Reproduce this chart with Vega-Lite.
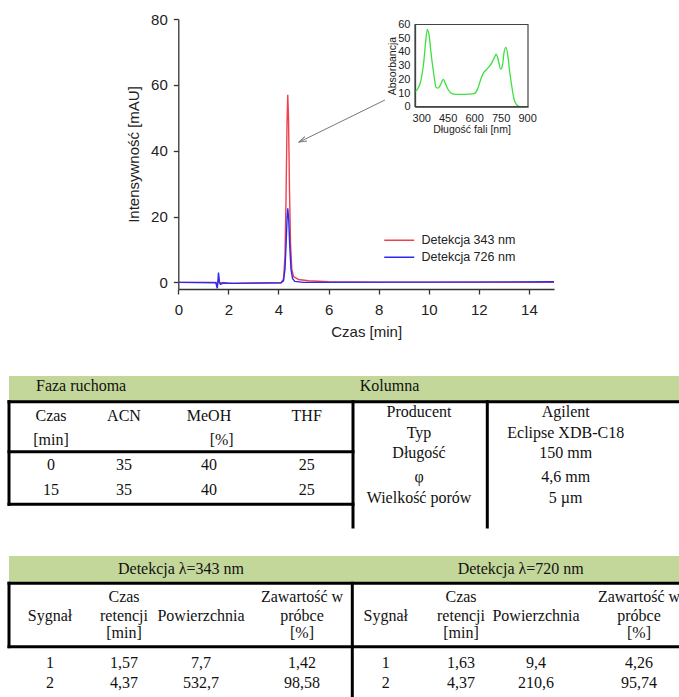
{
  "$schema": "https://vega.github.io/schema/vega-lite/v6.json",
  "width": 679,
  "height": 697,
  "autosize": {"type": "none"},
  "padding": 0,
  "background": "white",
  "config": {
    "view": {"stroke": null},
    "font": "Liberation Sans",
    "axis": {"grid": false, "domainColor": "#333", "tickColor": "#333", "labelColor": "#222", "titleColor": "#222", "titleFontWeight": "normal", "domainWidth": 1.3, "tickWidth": 1.3, "labelFlush": false, "labelOverlap": false}
  },
  "datasets": {
    "chrom": [
      {"s": "Detekcja 343 nm", "t": 0, "i": 0}, {"s": "Detekcja 343 nm", "t": 1.5, "i": 0}, {"s": "Detekcja 343 nm", "t": 1.56, "i": -0.4}, {"s": "Detekcja 343 nm", "t": 1.6, "i": 0.6}, {"s": "Detekcja 343 nm", "t": 1.65, "i": -0.2}, {"s": "Detekcja 343 nm", "t": 1.75, "i": 0}, {"s": "Detekcja 343 nm", "t": 2, "i": -0.3}, {"s": "Detekcja 343 nm", "t": 3, "i": -0.2}, {"s": "Detekcja 343 nm", "t": 4.1, "i": -0.1}, {"s": "Detekcja 343 nm", "t": 4.2, "i": 1}, {"s": "Detekcja 343 nm", "t": 4.26, "i": 8}, {"s": "Detekcja 343 nm", "t": 4.3, "i": 25}, {"s": "Detekcja 343 nm", "t": 4.34, "i": 48}, {"s": "Detekcja 343 nm", "t": 4.37, "i": 57}, {"s": "Detekcja 343 nm", "t": 4.4, "i": 50}, {"s": "Detekcja 343 nm", "t": 4.44, "i": 28}, {"s": "Detekcja 343 nm", "t": 4.48, "i": 12}, {"s": "Detekcja 343 nm", "t": 4.53, "i": 4}, {"s": "Detekcja 343 nm", "t": 4.6, "i": 1.8}, {"s": "Detekcja 343 nm", "t": 4.8, "i": 0.9}, {"s": "Detekcja 343 nm", "t": 5.2, "i": 0.5}, {"s": "Detekcja 343 nm", "t": 6, "i": 0.2}, {"s": "Detekcja 343 nm", "t": 8, "i": 0.1}, {"s": "Detekcja 343 nm", "t": 15, "i": 0},
      {"s": "Detekcja 726 nm", "t": 0, "i": 0}, {"s": "Detekcja 726 nm", "t": 1.5, "i": -0.1}, {"s": "Detekcja 726 nm", "t": 1.555, "i": -1.8}, {"s": "Detekcja 726 nm", "t": 1.58, "i": 0}, {"s": "Detekcja 726 nm", "t": 1.605, "i": 3}, {"s": "Detekcja 726 nm", "t": 1.64, "i": 0.3}, {"s": "Detekcja 726 nm", "t": 1.68, "i": -0.6}, {"s": "Detekcja 726 nm", "t": 1.8, "i": -0.2}, {"s": "Detekcja 726 nm", "t": 2.2, "i": -0.3}, {"s": "Detekcja 726 nm", "t": 4.1, "i": -0.1}, {"s": "Detekcja 726 nm", "t": 4.2, "i": 0.5}, {"s": "Detekcja 726 nm", "t": 4.26, "i": 4}, {"s": "Detekcja 726 nm", "t": 4.3, "i": 11}, {"s": "Detekcja 726 nm", "t": 4.34, "i": 19}, {"s": "Detekcja 726 nm", "t": 4.37, "i": 22.5}, {"s": "Detekcja 726 nm", "t": 4.41, "i": 19}, {"s": "Detekcja 726 nm", "t": 4.45, "i": 11}, {"s": "Detekcja 726 nm", "t": 4.5, "i": 4}, {"s": "Detekcja 726 nm", "t": 4.56, "i": 1.2}, {"s": "Detekcja 726 nm", "t": 4.65, "i": 0.3}, {"s": "Detekcja 726 nm", "t": 5, "i": 0}, {"s": "Detekcja 726 nm", "t": 10, "i": 0.1}, {"s": "Detekcja 726 nm", "t": 15, "i": 0.2}
    ],
    "spectrum": [
      {"nm": 265, "abs": 11}, {"nm": 280, "abs": 13}, {"nm": 300, "abs": 20}, {"nm": 315, "abs": 33}, {"nm": 325, "abs": 47}, {"nm": 335, "abs": 56.5}, {"nm": 345, "abs": 52}, {"nm": 355, "abs": 40}, {"nm": 370, "abs": 25}, {"nm": 385, "abs": 14}, {"nm": 395, "abs": 13.5}, {"nm": 410, "abs": 16}, {"nm": 425, "abs": 20}, {"nm": 440, "abs": 16}, {"nm": 455, "abs": 12}, {"nm": 475, "abs": 9.5}, {"nm": 500, "abs": 9}, {"nm": 550, "abs": 9}, {"nm": 600, "abs": 9.5}, {"nm": 620, "abs": 13}, {"nm": 640, "abs": 21}, {"nm": 655, "abs": 25}, {"nm": 680, "abs": 28.5}, {"nm": 700, "abs": 32}, {"nm": 715, "abs": 36}, {"nm": 725, "abs": 38.3}, {"nm": 735, "abs": 35}, {"nm": 750, "abs": 27.5}, {"nm": 760, "abs": 30}, {"nm": 770, "abs": 40}, {"nm": 780, "abs": 43.3}, {"nm": 790, "abs": 38}, {"nm": 800, "abs": 27}, {"nm": 813, "abs": 15}, {"nm": 825, "abs": 6}, {"nm": 840, "abs": 1.5}, {"nm": 855, "abs": 0.2}, {"nm": 880, "abs": 0}, {"nm": 905, "abs": 0}
    ],
    "arrow": [{"t1": 8.25, "i1": 55.4, "t2": 4.82, "i2": 42.6}],
    "t1fill": [{"x": 0, "x2": 12, "y": 0, "y2": 2}],
    "t1lines": [
      {"x": 0, "x2": 12, "y": 2, "y2": 2}, {"x": 0, "x2": 7, "y": 7, "y2": 7}, {"x": 0, "x2": 7, "y": 13, "y2": 13},
      {"x": 0, "x2": 0, "y": 2, "y2": 13}, {"x": 7, "x2": 7, "y": 2, "y2": 14}, {"x": 10, "x2": 10, "y": 2, "y2": 14}
    ],
    "t1heads": [{"x": 1, "y": 1, "label": "Faza ruchoma"}, {"x": 8, "y": 1, "label": "Kolumna"}],
    "t1cells": [
      {"x": 2, "y": 4, "label": "Czas"}, {"x": 3, "y": 4, "label": "ACN"}, {"x": 4, "y": 4, "label": "MeOH"}, {"x": 6, "y": 4, "label": "THF"},
      {"x": 2, "y": 6, "label": "[min]"}, {"x": 5, "y": 6, "label": "[%]"},
      {"x": 2, "y": 9, "label": "0"}, {"x": 3, "y": 9, "label": "35"}, {"x": 4, "y": 9, "label": "40"}, {"x": 6, "y": 9, "label": "25"},
      {"x": 2, "y": 11, "label": "15"}, {"x": 3, "y": 11, "label": "35"}, {"x": 4, "y": 11, "label": "40"}, {"x": 6, "y": 11, "label": "25"},
      {"x": 9, "y": 3, "label": "Producent"}, {"x": 11, "y": 3, "label": "Agilent"},
      {"x": 9, "y": 5, "label": "Typ"}, {"x": 11, "y": 5, "label": "Eclipse XDB-C18"},
      {"x": 9, "y": 8, "label": "Długość"}, {"x": 11, "y": 8, "label": "150 mm"},
      {"x": 9, "y": 10, "label": "φ"}, {"x": 11, "y": 10, "label": "4,6 mm"},
      {"x": 9, "y": 12, "label": "Wielkość porów"}, {"x": 11, "y": 12, "label": "5 µm"}
    ],
    "t2fill": [{"x": 0, "x2": 12, "y": 0, "y2": 2}],
    "t2lines": [
      {"x": 0, "x2": 12, "y": 2, "y2": 2}, {"x": 0, "x2": 12, "y": 6, "y2": 6},
      {"x": 0, "x2": 0, "y": 2, "y2": 6}, {"x": 6, "x2": 6, "y": 2, "y2": 9}
    ],
    "t2cells": [
      {"x": 3, "y": 1, "label": "Detekcja λ=343 nm"}, {"x": 9, "y": 1, "label": "Detekcja λ=720 nm"},
      {"x": 2, "y": 3, "label": "Czas"}, {"x": 5, "y": 3, "label": "Zawartość w"}, {"x": 8, "y": 3, "label": "Czas"}, {"x": 11, "y": 3, "label": "Zawartość w"},
      {"x": 1, "y": 4, "label": "Sygnał"}, {"x": 2, "y": 4, "label": "retencji"}, {"x": 4, "y": 4, "label": "Powierzchnia"}, {"x": 5, "y": 4, "label": "próbce"},
      {"x": 7, "y": 4, "label": "Sygnał"}, {"x": 8, "y": 4, "label": "retencji"}, {"x": 10, "y": 4, "label": "Powierzchnia"}, {"x": 11, "y": 4, "label": "próbce"},
      {"x": 2, "y": 5, "label": "[min]"}, {"x": 5, "y": 5, "label": "[%]"}, {"x": 8, "y": 5, "label": "[min]"}, {"x": 11, "y": 5, "label": "[%]"},
      {"x": 1, "y": 7, "label": "1"}, {"x": 2, "y": 7, "label": "1,57"}, {"x": 4, "y": 7, "label": "7,7"}, {"x": 5, "y": 7, "label": "1,42"},
      {"x": 7, "y": 7, "label": "1"}, {"x": 8, "y": 7, "label": "1,63"}, {"x": 10, "y": 7, "label": "9,4"}, {"x": 11, "y": 7, "label": "4,26"},
      {"x": 1, "y": 8, "label": "2"}, {"x": 2, "y": 8, "label": "4,37"}, {"x": 4, "y": 8, "label": "532,7"}, {"x": 5, "y": 8, "label": "98,58"},
      {"x": 7, "y": 8, "label": "2"}, {"x": 8, "y": 8, "label": "4,37"}, {"x": 10, "y": 8, "label": "210,6"}, {"x": 11, "y": 8, "label": "95,74"}
    ]
  },
  "layer": [
    {
      "layer": [
        {
          "data": {"name": "chrom"},
          "mark": {"type": "line", "strokeWidth": 1.4},
          "encoding": {
            "x": {"field": "t", "type": "quantitative", "title": "Czas [min]",
              "scale": {"domain": [0, 15], "range": [178.3, 554], "nice": false, "zero": false},
              "axis": {"orient": "bottom", "offset": -408, "values": [0, 2, 4, 6, 8, 10, 12, 14], "labelFontSize": 15, "titleFontSize": 15, "tickSize": 5, "labelPadding": 8, "titlePadding": 7}},
            "y": {"field": "i", "type": "quantitative", "title": "Intensywność [mAU]",
              "scale": {"domain": [-2, 80], "range": [289, 19], "nice": false, "zero": false},
              "axis": {"orient": "left", "offset": -178.3, "values": [0, 20, 40, 60, 80], "labelFontSize": 15, "titleFontSize": 15, "tickSize": 5, "labelPadding": 6, "titlePadding": 9}},
            "color": {"field": "s", "type": "nominal",
              "scale": {"domain": ["Detekcja 343 nm", "Detekcja 726 nm"], "range": ["#ef4050", "#2a2af0"]},
              "legend": {"orient": "none", "legendX": 393, "legendY": 234, "title": null, "padding": 0, "symbolType": "M-3,0L3,0", "symbolSize": 100, "symbolStrokeWidth": 1.5, "labelFontSize": 12.5, "labelColor": "#222", "labelOffset": 16, "rowPadding": 4}}
          }
        },
        {
          "data": {"name": "arrow"},
          "mark": {"type": "rule", "color": "#777", "strokeWidth": 1},
          "encoding": {
            "x": {"field": "t1", "type": "quantitative", "title": "Czas [min]"},
            "y": {"field": "i1", "type": "quantitative", "title": "Intensywność [mAU]"},
            "x2": {"field": "t2"},
            "y2": {"field": "i2"}
          }
        },
        {
          "data": {"name": "arrow"},
          "mark": {"type": "point", "shape": "M-0.7,2.2L0,0L0.7,2.2", "size": 49, "angle": 244, "filled": false, "color": "#777", "strokeWidth": 1, "opacity": 1},
          "encoding": {
            "x": {"field": "t2", "type": "quantitative", "title": "Czas [min]"},
            "y": {"field": "i2", "type": "quantitative", "title": "Intensywność [mAU]"}
          }
        }
      ]
    },
    {
      "layer": [
        {
          "data": {"name": "spectrum"},
          "mark": {"type": "line", "color": "#3ee03e", "strokeWidth": 1.3, "interpolate": "monotone"},
          "encoding": {
            "x": {"field": "nm", "type": "quantitative", "title": "Długość fali [nm]",
              "scale": {"domain": [265, 905], "range": [415, 528], "nice": false, "zero": false},
              "axis": {"orient": "bottom", "offset": -590.3, "values": [300, 450, 600, 750, 900], "ticks": false, "labelFontSize": 11, "titleFontSize": 10.5, "labelPadding": 6, "titlePadding": 1, "domainColor": "#444"}},
            "y": {"field": "abs", "type": "quantitative", "title": "Absorbancja",
              "scale": {"domain": [0, 60], "range": [106.7, 24.5], "nice": false, "zero": false},
              "axis": {"orient": "left", "offset": -415, "values": [0, 10, 20, 30, 40, 50, 60], "ticks": false, "labelFontSize": 11, "titleFontSize": 10.5, "labelPadding": 5, "titlePadding": 0, "domainColor": "#444"}}
          }
        },
        {
          "data": {"values": [{}]},
          "mark": {"type": "rect", "filled": false, "color": "#444", "strokeWidth": 1.2},
          "encoding": {
            "x": {"datum": 265, "type": "quantitative", "title": "Długość fali [nm]"},
            "x2": {"datum": 905},
            "y": {"datum": 0, "type": "quantitative", "title": "Absorbancja"},
            "y2": {"datum": 60}
          }
        }
      ]
    },
    {
      "encoding": {
        "x": {"field": "x", "type": "quantitative", "axis": null,
          "scale": {"domain": [0, 1, 2, 3, 4, 5, 6, 7, 8, 9, 10, 11, 12], "range": [9, 36, 51, 124, 209, 221.7, 306.7, 353, 359.7, 419, 487.3, 565.7, 679], "nice": false, "zero": false}},
        "y": {"field": "y", "type": "quantitative", "axis": null,
          "scale": {"domain": [0, 1, 2, 3, 4, 5, 6, 7, 8, 9, 10, 11, 12, 13, 14], "range": [376, 386, 401.7, 411.7, 416, 433.3, 440, 451.7, 453.3, 465, 476.7, 490, 498.3, 504.3, 527], "nice": false, "zero": false}}
      },
      "layer": [
        {"data": {"name": "t1fill"}, "mark": {"type": "rect", "color": "#c4d79b"}, "encoding": {"x2": {"field": "x2"}, "y2": {"field": "y2"}}},
        {"data": {"name": "t1lines"}, "mark": {"type": "rule", "color": "#000", "strokeWidth": 3, "strokeCap": "square"}, "encoding": {"x2": {"field": "x2"}, "y2": {"field": "y2"}}},
        {"data": {"name": "t1heads"}, "mark": {"type": "text", "font": "Liberation Serif", "fontSize": 16, "color": "#111", "align": "left", "baseline": "middle"}, "encoding": {"text": {"field": "label"}}},
        {"data": {"name": "t1cells"}, "mark": {"type": "text", "font": "Liberation Serif", "fontSize": 16, "color": "#111", "align": "center", "baseline": "middle"}, "encoding": {"text": {"field": "label"}}}
      ]
    },
    {
      "encoding": {
        "x": {"field": "x", "type": "quantitative", "axis": null,
          "scale": {"domain": [0, 1, 2, 3, 4, 5, 6, 7, 8, 9, 10, 11, 12], "range": [9, 50, 124, 181, 201, 302, 352.3, 385.7, 461, 520.7, 536, 639, 679], "nice": false, "zero": false}},
        "y": {"field": "y", "type": "quantitative", "axis": null,
          "scale": {"domain": [0, 1, 2, 3, 4, 5, 6, 7, 8, 9], "range": [556, 569, 583.3, 596.7, 616, 633.3, 646.7, 662.7, 682.7, 700], "nice": false, "zero": false}}
      },
      "layer": [
        {"data": {"name": "t2fill"}, "mark": {"type": "rect", "color": "#c4d79b"}, "encoding": {"x2": {"field": "x2"}, "y2": {"field": "y2"}}},
        {"data": {"name": "t2lines"}, "mark": {"type": "rule", "color": "#000", "strokeWidth": 3, "strokeCap": "square"}, "encoding": {"x2": {"field": "x2"}, "y2": {"field": "y2"}}},
        {"data": {"name": "t2cells"}, "mark": {"type": "text", "font": "Liberation Serif", "fontSize": 16, "color": "#111", "align": "center", "baseline": "middle"}, "encoding": {"text": {"field": "label"}}}
      ]
    }
  ],
  "resolve": {
    "scale": {"x": "independent", "y": "independent", "color": "independent"},
    "axis": {"x": "independent", "y": "independent"}
  }
}
